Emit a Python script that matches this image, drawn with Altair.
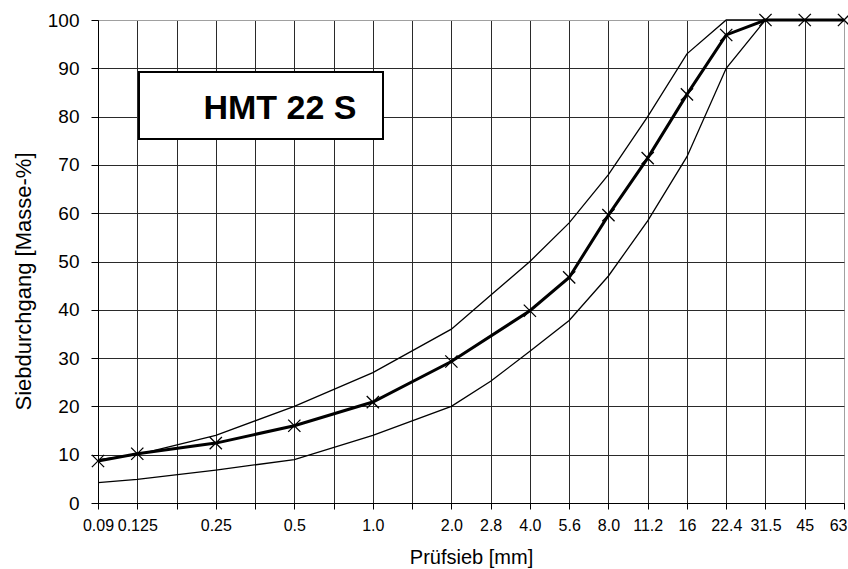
import json

import altair as alt
import pandas as pd

# Standard sieve series (equally spaced on the grading chart)
sieves = [0.09, 0.125, 0.18, 0.25, 0.355, 0.5, 0.71, 1.0, 1.4, 2.0,
          2.8, 4.0, 5.6, 8.0, 11.2, 16, 22.4, 31.5, 45, 63]
tick_labels = ["0.09", "0.125", "", "0.25", "", "0.5", "", "1.0", "", "2.0",
               "2.8", "4.0", "5.6", "8.0", "11.2", "16", "22.4", "31.5", "45", "63"]

# Measured grading curve
curve_sieves = [0.09, 0.125, 0.25, 0.5, 1.0, 2.0, 4.0, 5.6, 8.0, 11.2, 16, 22.4, 31.5, 45, 63]
curve_pass = [8.7, 10.2, 12.4, 16.0, 20.9, 29.3, 39.8, 46.7, 59.6, 71.4, 84.6, 96.9, 100, 100, 100]

# Grading envelope
limit_sieves = [0.09, 0.125, 0.25, 0.5, 1.0, 2.0, 2.8, 4.0, 5.6, 8.0, 11.2, 16, 22.4, 31.5, 45, 63]
upper_pass = [9.0, 10.0, 14.0, 20.0, 27.0, 36.0, 43.0, 50.0, 58.0, 68.0, 80.0, 93.0, 100, 100, 100, 100]
lower_pass = [4.2, 4.9, 6.8, 9.0, 14.0, 20.0, 25.2, 31.4, 37.8, 47.0, 58.4, 71.7, 90.0, 100, 100, 100]

mix_label = "HMT 22 S"

FONT = "Liberation Sans, Arial, sans-serif"


def pos(s):
    return sieves.index(s)


curve = pd.DataFrame({"pos": [pos(s) for s in curve_sieves], "pass": curve_pass})
limits = pd.concat([
    pd.DataFrame({"pos": [pos(s) for s in limit_sieves], "pass": upper_pass, "bound": "upper"}),
    pd.DataFrame({"pos": [pos(s) for s in limit_sieves], "pass": lower_pass, "bound": "lower"}),
])

label_array = "[" + ",".join(json.dumps(t) for t in tick_labels) + "]"
last = len(sieves) - 1

x_enc = alt.X(
    "pos:Q",
    scale=alt.Scale(domain=[0, last], nice=False, zero=False),
    axis=alt.Axis(
        values=list(range(len(sieves))),
        labelExpr=label_array + "[datum.value]",
        title="Prüfsieb [mm]",
        titleFontSize=20,
        titleFontWeight="normal",
        titleY=60,
        titleBaseline="alphabetic",
        labelFontSize=16,
        labelPadding=8,
        labelAlign={"condition": {"test": f"datum.value === {last}", "value": "right"}, "value": "center"},
        labelOffset={"condition": {"test": f"datum.value === {last}", "value": 3}, "value": 0},
        tickSize=6,
        labelFlush=False,
        labelOverlap=False,
        gridColor={"condition": {"test": f"datum.value === {last}", "value": "#a0a0a0"}, "value": "#2a2a2a"},
    ),
)
y_enc = alt.Y(
    "pass:Q",
    scale=alt.Scale(domain=[0, 100], nice=False),
    axis=alt.Axis(
        values=list(range(0, 101, 10)),
        title="Siebdurchgang [Masse-%]",
        titleFontSize=22,
        titleFontWeight="normal",
        titleX=-75,
        titleY=261,
        titleBaseline="middle",
        labelFontSize=19,
        labelPadding=12,
        tickSize=7,
        gridColor={"condition": {"test": "datum.value === 100", "value": "#a0a0a0"}, "value": "#2a2a2a"},
    ),
)

envelope = alt.Chart(limits).mark_line(color="black", strokeWidth=1.3).encode(
    x=x_enc, y=y_enc, detail="bound:N", order="pos:Q"
)
curve_line = alt.Chart(curve).mark_line(color="black", strokeWidth=3).encode(
    x=x_enc, y=y_enc, order="pos:Q"
)
curve_marks = alt.Chart(curve).mark_point(
    shape="M-1,-1L1,1M-1,1L1,-1", filled=False, color="black",
    strokeWidth=1.3, size=150, opacity=1
).encode(x=x_enc, y=y_enc)

label_df = pd.DataFrame({"label": [mix_label]})
box = alt.Chart(label_df).mark_rect(
    fill="white", stroke="black", strokeWidth=2
).encode(x=alt.value(41), x2=alt.value(285), y=alt.value(52), y2=alt.value(119))
box_text = alt.Chart(label_df).mark_text(
    font=FONT, fontSize=34, fontWeight="bold", color="black",
    align="center", baseline="alphabetic"
).encode(x=alt.value(182), y=alt.value(99), text="label:N")

chart = (
    alt.layer(envelope, curve_line, curve_marks, box, box_text)
    .properties(
        width=746,
        height=483,
        autosize=alt.AutoSizeParams(type="none"),
        padding={"left": 98, "top": 20, "right": 4, "bottom": 66},
        background="white",
    )
    .configure_view(stroke="#a0a0a0", strokeWidth=1)
    .configure_axis(
        labelFont=FONT,
        titleFont=FONT,
        labelColor="black",
        titleColor="black",
        domainColor="black",
        domainWidth=1,
        tickColor="black",
        gridWidth=1,
        gridOpacity=1,
    )
)

chart.save("out.html", embed_options={"renderer": "svg", "actions": False})
